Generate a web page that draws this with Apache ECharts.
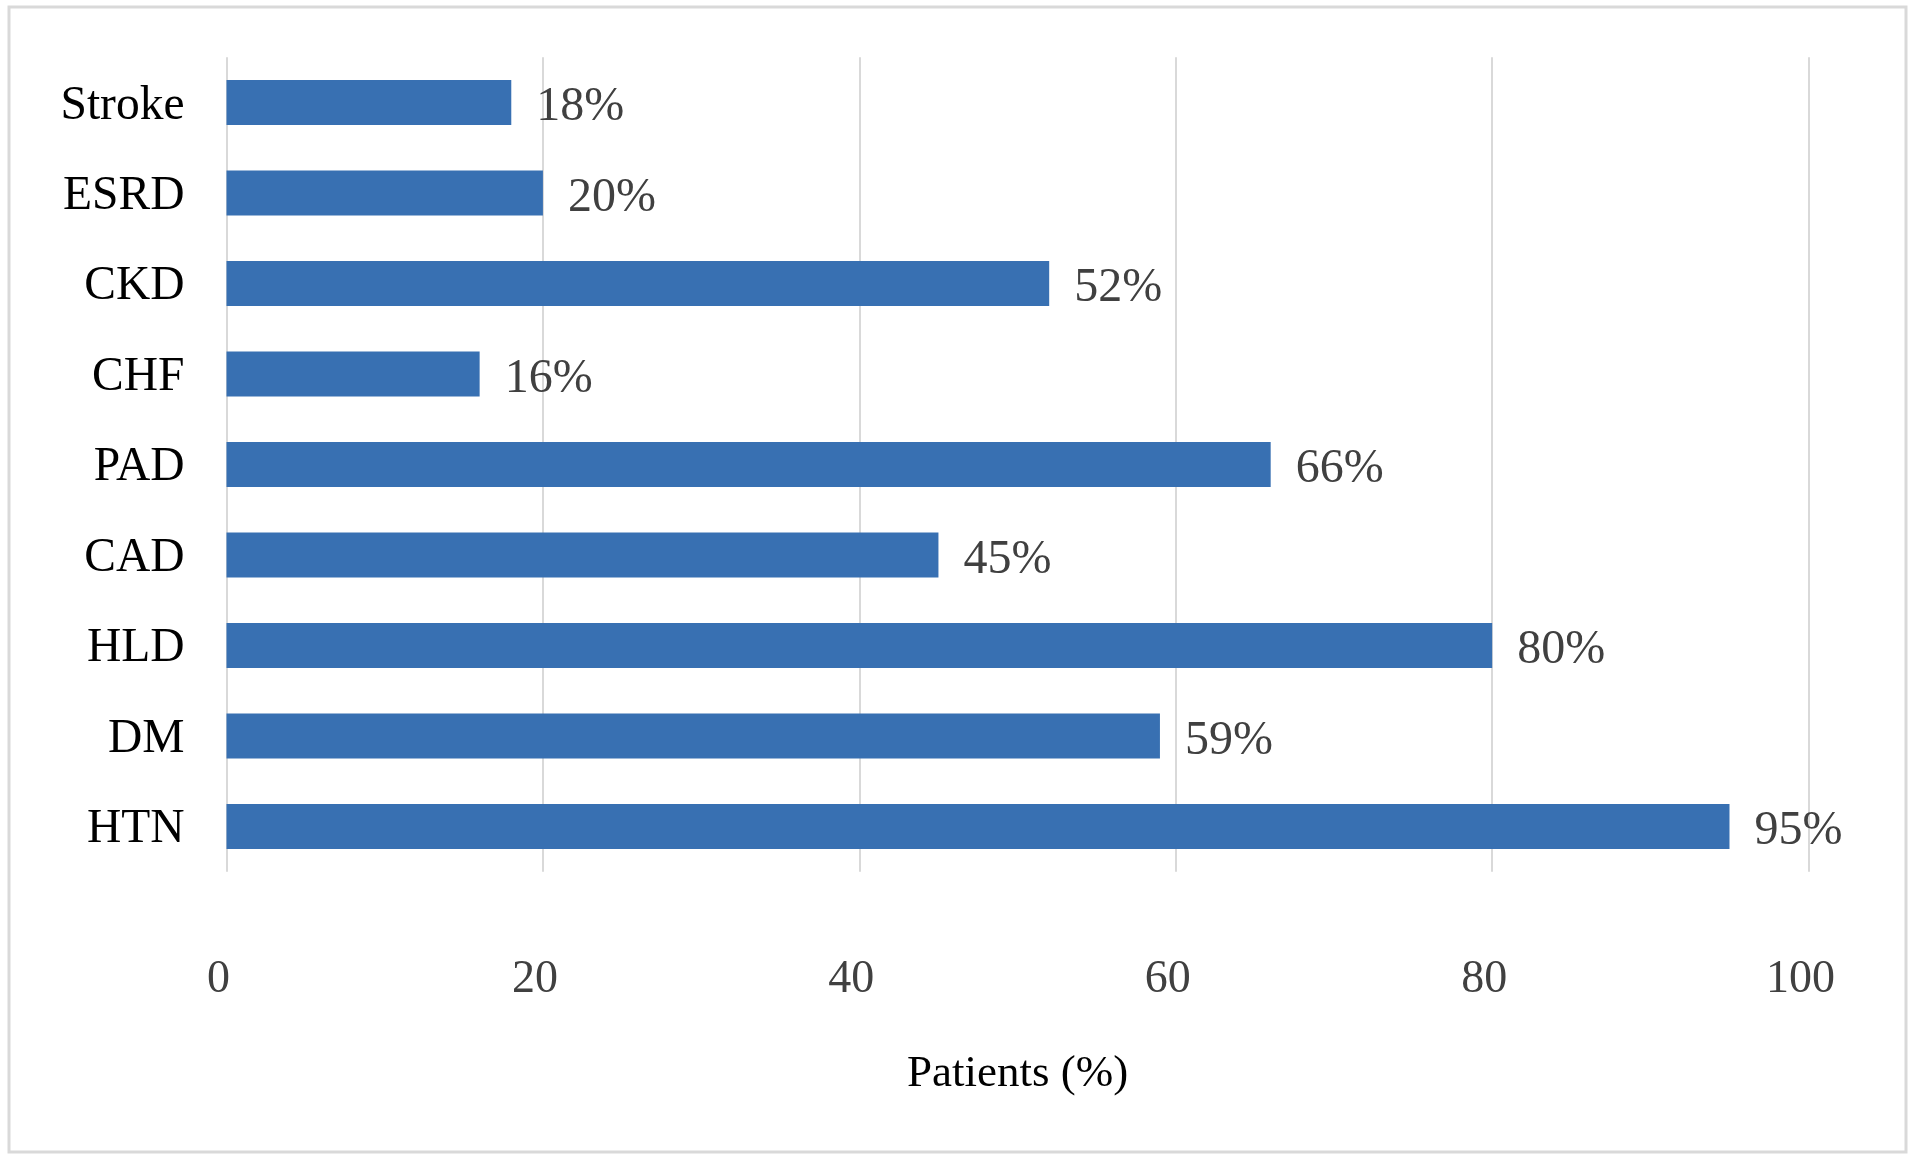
<!DOCTYPE html>
<html>
<head>
<meta charset="utf-8">
<script src="https://cdn.jsdelivr.net/npm/echarts@6/dist/echarts.min.js"></script>
<style>
html,body{margin:0;padding:0;background:#fff;}
#c{width:1920px;height:1159px;}
</style>
</head>
<body>
<div id="c"></div>
<script>
const categories = ['Stroke', 'ESRD', 'CKD', 'CHF', 'PAD', 'CAD', 'HLD', 'DM', 'HTN'];
const values = [18, 20, 52, 16, 66, 45, 80, 59, 95];
const xTicks = [0, 20, 40, 60, 80, 100];
const xTitle = 'Patients (%)';

const chart = echarts.init(document.getElementById('c'), null, {renderer: 'canvas'});
const FONT = '"Liberation Serif", "Times New Roman", serif';
chart.setOption({
  backgroundColor: '#ffffff',
  animation: false,
  graphic: [{
    type: 'rect',
    shape: {x: 9, y: 7, width: 1897, height: 1145},
    style: {fill: 'none', stroke: '#d9d9d9', lineWidth: 3},
    silent: true
  }],
  grid: {left: 226.5, right: 111.4, top: 57.3, bottom: 287.3, containLabel: false},
  xAxis: {
    type: 'value',
    min: xTicks[0],
    max: xTicks[xTicks.length - 1],
    interval: xTicks[1] - xTicks[0],
    axisLine: {show: false},
    axisTick: {show: false},
    splitLine: {show: true, lineStyle: {color: '#d9d9d9', width: 2}},
    axisLabel: {
      margin: 85,
      fontFamily: FONT,
      fontSize: 46,
      color: '#404040',
      padding: [0, 16, 0, 0]
    },
    name: xTitle,
    nameLocation: 'middle',
    nameGap: 180,
    nameTextStyle: {fontFamily: FONT, fontSize: 45, color: '#000000'}
  },
  yAxis: {
    type: 'category',
    inverse: true,
    data: categories,
    axisLine: {show: false},
    axisTick: {show: false},
    splitLine: {show: false},
    axisLabel: {
      margin: 42,
      formatter: v => '{a|' + v + '}',
      rich: {a: {fontFamily: FONT, fontSize: 47.5, color: '#000000', padding: [7, 0, 0, 0]}}
    }
  },
  series: [{
    type: 'bar',
    data: values,
    barWidth: 45,
    itemStyle: {color: '#3870B2'},
    label: {
      show: true,
      position: 'right',
      distance: 25,
      offset: [0, 5],
      formatter: p => p.value + '%',
      fontFamily: FONT,
      fontSize: 48,
      color: '#404040'
    }
  }]
});
</script>
</body>
</html>
